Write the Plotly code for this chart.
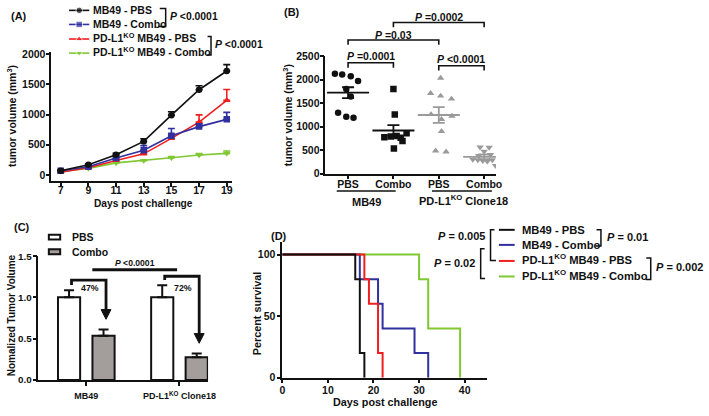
import plotly.graph_objects as go

W, H = 709, 416
FONT = "Liberation Sans, Arial, Helvetica, sans-serif"
BLACK = "#111111"
BLUE = "#30309f"
RED = "#ef1f1f"
GREEN = "#80c832"
GRAY = "#9a9a9a"
COMBO_FILL = "#a39d9b"

# ---------------- data ----------------
# (A) tumour growth
days_a = [7, 9, 11, 13, 15, 17, 19]
a_mb49_pbs = [70, 170, 335, 555, 990, 1410, 1720]
a_mb49_pbs_err = [10, 15, 25, 45, 55, 65, 105]
a_mb49_combo = [70, 135, 280, 410, 650, 800, 920]
a_mb49_combo_err = [10, 15, 30, 75, 120, 45, 115]
a_ko_pbs = [45, 120, 240, 350, 605, 875, 1235]
a_ko_pbs_err = [10, 15, 25, 45, 75, 120, 180]
a_ko_combo = [60, 110, 200, 238, 285, 330, 358]
a_ko_combo_err = [5, 10, 15, 15, 20, 25, 40]
a_names = ["MB49 - PBS", "MB49 - Combo", "PD-L1<sup>KO</sup> MB49 - PBS", "PD-L1<sup>KO</sup> MB49 - Combo"]

# (B) individual tumour volumes
b_ticks = ["PBS", "Combo", "PBS", "Combo"]
b_mb49_pbs = [2120, 2106, 2072, 1968, 1796, 1637, 1291, 1209, 1188]
b_mb49_pbs_dx = [-0.29, -0.13, 0.06, 0.22, -0.04, 0.06, -0.22, -0.04, 0.12]
b_mb49_combo = [1796, 1257, 856, 800, 787, 773, 760, 691, 532]
b_mb49_combo_dx = [0.0, 0.03, 0.29, 0.07, -0.06, -0.2, 0.16, 0.2, 0.01]
b_ko_pbs = [2030, 1706, 1650, 1588, 1257, 1153, 1222, 898, 483, 463]
b_ko_pbs_dx = [0.04, -0.18, 0.04, 0.28, -0.17, 0.06, 0.29, 0.06, -0.07, 0.16]
b_ko_combo = [560, 555, 470, 400, 380, 300, 290, 270, 260, 290, 170]
b_ko_combo_dx = [-0.09, 0.11, 0.0, 0.14, -0.12, -0.25, -0.14, -0.03, 0.07, 0.18, 0.25]
b_mean = [1720, 915, 1245, 355]
b_sem = [115, 115, 166, 50]
b_groups = ["MB49", "PD-L1<sup>KO</sup> Clone18"]

# (C) normalised volume
c_groups = ["MB49", "PD-L1<sup>KO</sup> Clone18"]
c_pbs = [1.0, 1.0]
c_pbs_err = [0.085, 0.145]
c_combo = [0.535, 0.275]
c_combo_err = [0.075, 0.045]
c_pct = ["47%", "72%"]

# (D) survival
d_mb49_pbs_t = [0, 16, 17, 18]
d_mb49_pbs_s = [100, 80, 20, 0]
d_mb49_combo_t = [0, 17, 21, 22, 29, 32]
d_mb49_combo_s = [100, 80, 60, 40, 20, 0]
d_ko_pbs_t = [0, 18, 19, 21, 22]
d_ko_pbs_s = [100, 80, 60, 20, 0]
d_ko_combo_t = [0, 30, 32, 39]
d_ko_combo_s = [100, 80, 40, 0]

# ---------------- geometry (pixels) ----------------
A_X, A_Y, A_XR, A_YR = (49, 232), (180, 47), [6.32, 19.36], [-96, 2040]
B_X, B_Y, B_XR, B_YR = (327, 500), (172.5, 51.5), [-0.5, 3.26], [0, 2500]
C_X, C_Y, C_XR, C_YR = (36, 208), (385, 257.5), [-0.513, 1.307], [0, 1.5]
D_X, D_Y, D_XR, D_YR = (283.3, 491.4), (382.7, 243.3), [0, 45], [0, 110]


def dom_x(p):
    return [p[0] / W, p[1] / W]


def dom_y(p):
    return [1 - p[0] / H, 1 - p[1] / H]


def pmap(v, p, r):
    return p[0] + (v - r[0]) / (r[1] - r[0]) * (p[1] - p[0])


def axstyle(size=10.5, standoff=0, **kw):
    d = dict(showline=True, linecolor=BLACK, linewidth=1.6, ticks="outside", ticklen=4,
             tickwidth=1.6, tickcolor=BLACK, showgrid=False, zeroline=False,
             ticklabelstandoff=standoff,
             tickfont=dict(family=FONT, size=size, color=BLACK, weight="bold"), fixedrange=True)
    d.update(kw)
    return d


fig = go.Figure()

# ---------------- panel A ----------------
a_series = [
    (a_ko_combo, a_ko_combo_err, GREEN, "triangle-down"),
    (a_ko_pbs, a_ko_pbs_err, RED, "triangle-up"),
    (a_mb49_combo, a_mb49_combo_err, BLUE, "square"),
    (a_mb49_pbs, a_mb49_pbs_err, BLACK, "circle"),
]
for ys, errs, col, sym in a_series:
    fig.add_trace(go.Scatter(
        x=days_a, y=ys, mode="lines+markers", xaxis="x", yaxis="y",
        line=dict(color=col, width=1.6),
        marker=dict(symbol=sym, size=6.5, color=col),
        error_y=dict(type="data", array=errs, arrayminus=[0] * len(errs), color=col,
                     thickness=1.6, width=3.5),
        showlegend=False))

# ---------------- panel B ----------------
b_sets = [
    (b_mb49_pbs, b_mb49_pbs_dx, BLACK, "circle"),
    (b_mb49_combo, b_mb49_combo_dx, BLACK, "square"),
    (b_ko_pbs, b_ko_pbs_dx, GRAY, "triangle-up"),
    (b_ko_combo, b_ko_combo_dx, GRAY, "triangle-down"),
]
for i, (ys, dx, col, sym) in enumerate(b_sets):
    fig.add_trace(go.Scatter(
        x=[i + d for d in dx], y=ys, mode="markers", xaxis="x2", yaxis="y2",
        marker=dict(symbol=sym, size=6.5, color=col), showlegend=False))
    fig.add_trace(go.Scatter(
        x=[i], y=[b_mean[i]], mode="markers", xaxis="x2", yaxis="y2",
        marker=dict(symbol="line-ew", size=30, color=col, line=dict(width=1.8, color=col)),
        error_y=dict(type="data", array=[b_sem[i]], color=col, thickness=1.8, width=6),
        showlegend=False))

# ---------------- panel C ----------------
fig.add_trace(go.Bar(
    x=[0, 1], y=c_pbs, xaxis="x3", yaxis="y3",
    marker=dict(color="white", line=dict(color=BLACK, width=2)),
    error_y=dict(type="data", array=c_pbs_err, arrayminus=[0, 0], color=BLACK, thickness=2, width=5),
    showlegend=False))
fig.add_trace(go.Bar(
    x=[0, 1], y=c_combo, xaxis="x3", yaxis="y3",
    marker=dict(color=COMBO_FILL, line=dict(color=BLACK, width=2)),
    error_y=dict(type="data", array=c_combo_err, arrayminus=[0, 0], color=BLACK, thickness=2, width=5),
    showlegend=False))

# ---------------- panel D ----------------
d_series = [
    (d_ko_combo_t, d_ko_combo_s, GREEN),
    (d_mb49_combo_t, d_mb49_combo_s, BLUE),
    (d_ko_pbs_t, d_ko_pbs_s, RED),
    (d_mb49_pbs_t, d_mb49_pbs_s, BLACK),
]
for t, s, col in d_series:
    fig.add_trace(go.Scatter(x=t, y=s, mode="lines", line=dict(color=col, width=2, shape="hv"),
                             xaxis="x4", yaxis="y4", showlegend=False))

# ---------------- overlay (pixel) helpers ----------------
annotations = []
shapes = []


def text(x, y, s, size=10.5, xanchor="center", yanchor="middle", angle=0, color=BLACK):
    annotations.append(dict(x=x, y=y, xref="x5", yref="y5", text=s, showarrow=False,
                            xanchor=xanchor, yanchor=yanchor, textangle=angle,
                            font=dict(family=FONT, size=size, color=color, weight="bold")))


def path(pts, width=1.5, color=BLACK, fill=None):
    d = "M " + " L ".join(f"{x:.1f},{y:.1f}" for x, y in pts)
    if fill:
        d += " Z"
    shapes.append(dict(type="path", path=d, xref="x5", yref="y5",
                       line=dict(color=color, width=width),
                       fillcolor=fill if fill else "rgba(0,0,0,0)"))


# panel labels
text(6, 10, "(A)", size=11, xanchor="left")
text(283, 6, "(B)", size=11, xanchor="left")
text(9, 228, "(C)", size=11, xanchor="left")
text(270, 237, "(D)", size=11, xanchor="left")

# --- A legend
a_rows = [4.5, 19, 34, 48.5]
a_leg = [(BLACK, "circle"), (BLUE, "square"), (RED, "triangle-up"), (GREEN, "triangle-down")]
for (col, sym), yy, nm in zip(a_leg, a_rows, a_names):
    fig.add_trace(go.Scatter(x=[67, 77.3, 87.5], y=[yy, yy, yy], mode="lines+markers",
                             xaxis="x5", yaxis="y5", line=dict(color=col, width=1.6),
                             marker=dict(symbol=sym, size=[0, 6.5, 0], color=col),
                             showlegend=False, hoverinfo="skip"))
    text(89.5, yy + (-2 if "sup" in nm else 0), nm, size=10.5, xanchor="left")
path([(159, 2.5), (165, 2.5), (165, 21), (158, 21)])
text(167, 10.5, "<i>P</i> &lt;0.0001", size=10.4, xanchor="left")
path([(207.5, 31.5), (211, 31.5), (211, 50.5), (207, 50.5)])
text(213.5, 40, "<i>P</i> &lt;0.0001", size=10.4, xanchor="left")

# A axis titles
text(8.5, 113, "tumor volume (mm<sup>3</sup>)", size=10.5, angle=-90)
text(143, 203, "Days post challenge", size=10.2)

# --- B annotations
bx = lambda v: pmap(v, B_X, B_XR)
text(288.5, 112, "tumor volume (mm<sup>3</sup>)", size=10.5, angle=-90)


def bracket(x0, x1, y, drop, label, ty):
    path([(x0, y + drop), (x0, y), (x1, y), (x1, y + drop)], width=1.6)
    text((x0 + x1) / 2, ty, label, size=10.5)


bracket(bx(0), bx(1), 58.5, 5, "<i>P</i> =0.0001", 51)
bracket(bx(2), bx(3), 61.5, 5, "<i>P</i> &lt;0.0001", 54.5)
bracket(bx(0), bx(2), 35, 5, "<i>P</i> =0.03", 29.5)
bracket(bx(1), bx(3), 17, 5, "<i>P</i> =0.0002", 11.5)
path([(bx(-0.25), 190.5), (bx(1.05), 190.5)], width=1.6)
path([(bx(1.85), 190.5), (bx(3.17), 190.5)], width=1.6)
text((bx(-0.25) + bx(1.05)) / 2, 201.5, b_groups[0], size=11)
text((bx(1.85) + bx(3.17)) / 2 + 2, 200, b_groups[1], size=11)

# --- C annotations
cx = lambda v: pmap(v, C_X, C_XR)
cy = lambda v: pmap(v, C_Y, C_YR)
text(8.5, 318, "Nomalized Tumor Volume", size=10, angle=-90)
shapes.append(dict(type="rect", x0=46.5, x1=58, y0=235.5, y1=240.5, xref="x5", yref="y5",
                   line=dict(color=BLACK, width=2), fillcolor="white"))
shapes.append(dict(type="rect", x0=46.5, x1=58, y0=250.5, y1=255.5, xref="x5", yref="y5",
                   line=dict(color=BLACK, width=2), fillcolor=COMBO_FILL))
text(68, 238, "PBS", size=10.5, xanchor="left")
text(68, 253, "Combo", size=10.5, xanchor="left")
path([(cx(0.065), cy(1.335)), (cx(0.975), cy(1.335))], width=3)
text((cx(0.065) + cx(0.975)) / 2, 264.5, "<i>P</i> &lt;0.0001", size=8.6)
elbow_h = [282.3, 278.3]
for i in range(2):
    xl = cx(i - 0.185) + 2.5
    xr = cx(i + 0.185) + 2.5
    ystub = cy(c_pbs[i] + c_pbs_err[i]) - 5.5
    yh = elbow_h[i]
    tip = cy(c_combo[i] + c_combo_err[i]) - 10.5
    path([(xl, ystub), (xl, yh), (xr, yh), (xr, tip - 8)], width=2.8)
    path([(xr - 5, tip - 10), (xr + 5, tip - 10), (xr, tip)], width=1, fill=BLACK)
    text(xl + 18.5, 290, c_pct[i], size=8.8)

# --- D annotations
text(258.5, 316.5, "Percent survival", size=10.8, angle=-90)
text(387.5, 408, "Days post challenge", size=10.8)
d_rows = [230.5, 246, 262.5, 278.5]
d_cols = [BLACK, BLUE, RED, GREEN]
for yy, col, nm in zip(d_rows, d_cols, a_names):
    path([(503, yy), (519, yy)], width=2, color=col)
    text(524.5, yy + (-2 if "sup" in nm else 0), nm, size=11.2, xanchor="left")
path([(498.5, 230.5), (494.5, 230.5), (494.5, 262), (500, 262)], width=1.5)
text(490.5, 237, "<i>P</i> = 0.005", size=11, xanchor="right")
path([(488.5, 250), (484.5, 250), (484.5, 280.5), (489, 280.5)], width=1.5)
text(480.5, 264.5, "<i>P</i> = 0.02", size=11, xanchor="right")
path([(602, 230.5), (606.5, 230.5), (606.5, 247), (601, 247)], width=1.5)
text(610.5, 237.5, "<i>P</i> = 0.01", size=11, xanchor="left")
path([(652.5, 259.5), (657, 259.5), (657, 281.5), (652, 281.5)], width=1.5)
text(660.5, 269, "<i>P</i> = 0.002", size=11, xanchor="left")

fig.update_layout(
    width=W, height=H, autosize=False,
    margin=dict(l=0, r=0, t=0, b=0, pad=0),
    paper_bgcolor="white", plot_bgcolor="rgba(0,0,0,0)",
    font=dict(family=FONT, size=10.5, color=BLACK, weight="bold"),
    showlegend=False,
    barmode="group", bargap=0.26, bargroupgap=0.357,
    xaxis=axstyle(domain=dom_x(A_X), range=A_XR, tickvals=days_a, anchor="y", standoff=-5),
    yaxis=axstyle(domain=dom_y(A_Y), range=A_YR, tickvals=[0, 500, 1000, 1500, 2000], anchor="x", standoff=-2),
    xaxis2=axstyle(domain=dom_x(B_X), range=B_XR, tickvals=[0, 1, 2, 3], ticktext=b_ticks, anchor="y2", standoff=-4),
    yaxis2=axstyle(domain=dom_y(B_Y), range=B_YR, tickvals=[0, 500, 1000, 1500, 2000, 2500], anchor="x2", standoff=-2),
    xaxis3=axstyle(size=9, domain=dom_x(C_X), range=C_XR, tickvals=[0, 1], ticktext=c_groups, anchor="y3",
                   standoff=3),
    yaxis3=axstyle(size=9.8, domain=dom_y(C_Y), range=C_YR, tickvals=[0, 0.5, 1.0, 1.5], tickformat=".1f",
                   anchor="x3", standoff=-1),
    xaxis4=axstyle(domain=dom_x(D_X), range=D_XR, tickvals=[0, 10, 20, 30, 40], anchor="y4", standoff=-2),
    yaxis4=axstyle(domain=dom_y(D_Y), range=D_YR, tickvals=[0, 50, 100], anchor="x4", standoff=-1),
    xaxis5=dict(domain=[0, 1], range=[0, W], visible=False, fixedrange=True, anchor="y5"),
    yaxis5=dict(domain=[0, 1], range=[H, 0], visible=False, fixedrange=True, anchor="x5"),
    annotations=annotations,
    shapes=shapes,
)

fig.write_html("out.html", config={"displayModeBar": False},
               post_script="document.body.style.margin='0';")
